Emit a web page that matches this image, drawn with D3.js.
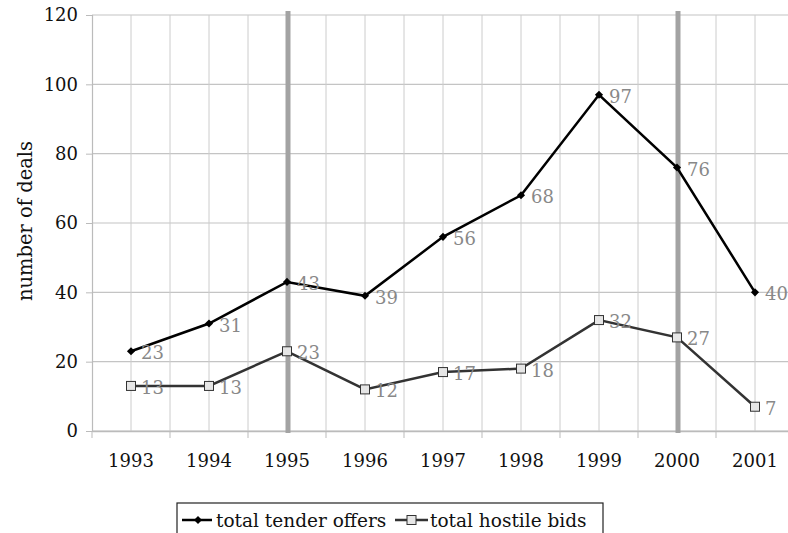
<!DOCTYPE html>
<html>
<head>
<meta charset="utf-8">
<script src="https://cdn.jsdelivr.net/npm/d3@7"></script>
<style>
  body { margin: 0; background: #fff; }
  svg { display: block; font-family: "DejaVu Serif", serif; }
</style>
</head>
<body>
<svg id="chart" width="788" height="533"></svg>
<script>
var years = ["1993", "1994", "1995", "1996", "1997", "1998", "1999", "2000", "2001"];
var tenderOffers = [23, 31, 43, 39, 56, 68, 97, 76, 40];
var hostileBids = [13, 13, 23, 12, 17, 18, 32, 27, 7];
var markerYears = ["1995", "2000"];
var yTicks = [0, 20, 40, 60, 80, 100, 120];

var svg = d3.select("#chart"),
  margin = { top: 15, left: 92 },
  step = 78,
  width = step * years.length,
  height = 416;

var x = d3.scaleBand().domain(years).range([0, width]),
  y = d3.scaleLinear().domain([0, 120]).range([height, 0]);

var g = svg.append("g")
  .attr("transform", "translate(" + margin.left + "," + margin.top + ")");

function cx(d) { return x(d) + x.bandwidth() / 2; }

// horizontal grid
g.append("g")
  .selectAll("line")
  .data(yTicks)
  .enter().append("line")
  .attr("x1", 0).attr("x2", width)
  .attr("y1", d => y(d)).attr("y2", d => y(d))
  .attr("stroke", "#c4c4c4").attr("stroke-width", 1.2);

// vertical grid at every half step
var halfSteps = d3.range(1, years.length * 2 + 1);
g.append("g")
  .selectAll("line")
  .data(halfSteps)
  .enter().append("line")
  .attr("x1", d => d * step / 2).attr("x2", d => d * step / 2)
  .attr("y1", 0).attr("y2", height)
  .attr("stroke", "#cccccc").attr("stroke-width", 1);

// y axis
var yAxis = d3.axisLeft(y).tickValues(yTicks).tickSize(6).tickPadding(8);
var ya = g.append("g").call(yAxis);
ya.select(".domain").attr("stroke", "#bbbbbb").attr("stroke-width", 1.2);
ya.selectAll(".tick line").attr("stroke", "#bbbbbb");
ya.selectAll("text").attr("font-size", 18).attr("fill", "#111")
  .attr("font-family", "DejaVu Serif");

// x axis
var xa = g.append("g").attr("transform", "translate(0," + height + ")")
  .call(d3.axisBottom(x).tickSize(0).tickPadding(23));
xa.select(".domain").attr("stroke", "#bbbbbb").attr("stroke-width", 1.5);
xa.selectAll("text").attr("font-size", 18).attr("fill", "#111")
  .attr("font-family", "DejaVu Serif");
xa.append("g")
  .selectAll("line")
  .data(d3.range(0, years.length + 1))
  .enter().append("line")
  .attr("x1", d => d * step).attr("x2", d => d * step)
  .attr("y1", 0).attr("y2", 7)
  .attr("stroke", "#bbbbbb");

// thick marker lines
g.append("g")
  .selectAll("line")
  .data(markerYears)
  .enter().append("line")
  .attr("x1", d => cx(d) + 1).attr("x2", d => cx(d) + 1)
  .attr("y1", -4).attr("y2", height + 2)
  .attr("stroke", "#a3a3a3").attr("stroke-width", 5);

var line = d3.line().x((d, i) => cx(years[i])).y(d => y(d));

// hostile bids
g.append("path").datum(hostileBids)
  .attr("d", line).attr("fill", "none")
  .attr("stroke", "#333").attr("stroke-width", 2.5);
g.append("g").selectAll("rect")
  .data(hostileBids).enter().append("rect")
  .attr("x", (d, i) => cx(years[i]) - 4.5).attr("y", d => y(d) - 4.5)
  .attr("width", 9).attr("height", 9)
  .attr("fill", "#e6e6e6").attr("stroke", "#333").attr("stroke-width", 1);

// tender offers
g.append("path").datum(tenderOffers)
  .attr("d", line).attr("fill", "none")
  .attr("stroke", "#000").attr("stroke-width", 2.5);
var diamond = d3.symbol().type(d3.symbolDiamond2).size(42);
g.append("g").selectAll("path")
  .data(tenderOffers).enter().append("path")
  .attr("d", diamond)
  .attr("transform", (d, i) => "translate(" + cx(years[i]) + "," + y(d) + ")")
  .attr("fill", "#000");

// data labels
function labels(data) {
  g.append("g").selectAll("text")
    .data(data).enter().append("text")
    .attr("x", (d, i) => cx(years[i]) + 10)
    .attr("y", d => y(d) + 1.5)
    .attr("dy", "0.36em")
    .attr("font-size", 18).attr("fill", "#888")
    .text(d => d);
}
labels(tenderOffers);
labels(hostileBids);

// axis title
svg.append("text")
  .attr("transform", "translate(32,221) rotate(-90)")
  .attr("text-anchor", "middle")
  .attr("font-size", 19.5).attr("fill", "#111")
  .text("number of deals");

// legend
var lg = svg.append("g").attr("transform", "translate(177,503)");
lg.append("rect").attr("x", 0).attr("y", 0).attr("width", 426).attr("height", 40)
  .attr("fill", "#fff").attr("stroke", "#222").attr("stroke-width", 1.2);
lg.append("line").attr("x1", 5).attr("x2", 35).attr("y1", 17).attr("y2", 17)
  .attr("stroke", "#000").attr("stroke-width", 2.5);
lg.append("path").attr("d", diamond).attr("transform", "translate(21,17)").attr("fill", "#000");
lg.append("text").attr("x", 39).attr("y", 24)
  .attr("font-size", 18.5).attr("fill", "#111").text("total tender offers");
lg.append("line").attr("x1", 218).attr("x2", 251).attr("y1", 17).attr("y2", 17)
  .attr("stroke", "#333").attr("stroke-width", 2.5);
lg.append("rect").attr("x", 230).attr("y", 12.5).attr("width", 9).attr("height", 9)
  .attr("fill", "#e6e6e6").attr("stroke", "#333");
lg.append("text").attr("x", 253).attr("y", 24)
  .attr("font-size", 18.5).attr("fill", "#111").text("total hostile bids");
</script>
</body>
</html>
